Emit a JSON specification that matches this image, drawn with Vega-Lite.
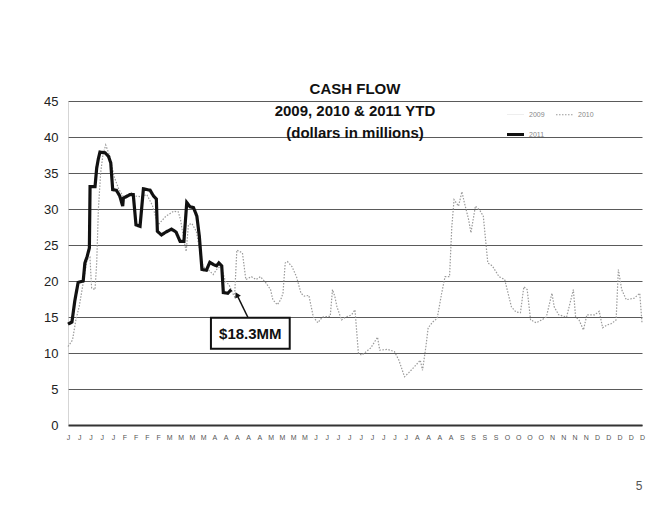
{
  "$schema": "https://vega.github.io/schema/vega-lite/v6.json",
  "width": 574,
  "height": 324,
  "autosize": {"type": "none"},
  "padding": {"left": 68, "top": 101, "right": 26, "bottom": 83},
  "background": "white",
  "config": {"view": {"stroke": null}, "font": "Liberation Sans"},
  "title": {
    "text": ["CASH FLOW", "2009, 2010 & 2011 YTD", "(dollars in millions)"],
    "fontSize": 15,
    "fontWeight": "bold",
    "font": "Liberation Sans",
    "color": "#111111",
    "lineHeight": 22,
    "anchor": "middle",
    "frame": "group",
    "baseline": "top",
    "offset": 0,
    "dy": 46
  },
  "datasets": {
    "lines": [
      {"series": "2010", "week": 0, "value": 10.9},
      {"series": "2010", "week": 0.4, "value": 11.8},
      {"series": "2010", "week": 0.7, "value": 14.6},
      {"series": "2010", "week": 1.0, "value": 16.5},
      {"series": "2010", "week": 1.4, "value": 20.2},
      {"series": "2010", "week": 1.7, "value": 23.0},
      {"series": "2010", "week": 1.95, "value": 23.3},
      {"series": "2010", "week": 2.1, "value": 19.0},
      {"series": "2010", "week": 2.4, "value": 18.8},
      {"series": "2010", "week": 2.55, "value": 22.5},
      {"series": "2010", "week": 2.7, "value": 30.0},
      {"series": "2010", "week": 2.9, "value": 35.0},
      {"series": "2010", "week": 3.1, "value": 37.5},
      {"series": "2010", "week": 3.35, "value": 38.9},
      {"series": "2010", "week": 3.7, "value": 37.4},
      {"series": "2010", "week": 4.1, "value": 34.5},
      {"series": "2010", "week": 4.5, "value": 32.8},
      {"series": "2010", "week": 5.0, "value": 31.5},
      {"series": "2010", "week": 5.6, "value": 32.3},
      {"series": "2010", "week": 6.0, "value": 31.8},
      {"series": "2010", "week": 6.5, "value": 31.7},
      {"series": "2010", "week": 7.0, "value": 32.0},
      {"series": "2010", "week": 7.5, "value": 30.5},
      {"series": "2010", "week": 8.0, "value": 27.8},
      {"series": "2010", "week": 8.7, "value": 29.0},
      {"series": "2010", "week": 9.4, "value": 29.7},
      {"series": "2010", "week": 9.8, "value": 29.6},
      {"series": "2010", "week": 10.0, "value": 28.5},
      {"series": "2010", "week": 10.3, "value": 25.7},
      {"series": "2010", "week": 10.5, "value": 24.1},
      {"series": "2010", "week": 10.7, "value": 27.8},
      {"series": "2010", "week": 11.0, "value": 28.0},
      {"series": "2010", "week": 11.4, "value": 26.9},
      {"series": "2010", "week": 11.7, "value": 24.3},
      {"series": "2010", "week": 12.0, "value": 22.0},
      {"series": "2010", "week": 12.5, "value": 21.5},
      {"series": "2010", "week": 12.9, "value": 20.9},
      {"series": "2010", "week": 13.3, "value": 21.8},
      {"series": "2010", "week": 13.6, "value": 22.0},
      {"series": "2010", "week": 14.0, "value": 19.9},
      {"series": "2010", "week": 14.3, "value": 19.5},
      {"series": "2010", "week": 14.6, "value": 18.4},
      {"series": "2010", "week": 14.8, "value": 17.8},
      {"series": "2010", "week": 15.0, "value": 24.3},
      {"series": "2010", "week": 15.5, "value": 23.9},
      {"series": "2010", "week": 15.8, "value": 20.2},
      {"series": "2010", "week": 16.3, "value": 20.6},
      {"series": "2010", "week": 16.7, "value": 20.2},
      {"series": "2010", "week": 17.1, "value": 20.6},
      {"series": "2010", "week": 17.6, "value": 19.7},
      {"series": "2010", "week": 18.0, "value": 18.8},
      {"series": "2010", "week": 18.2, "value": 17.4},
      {"series": "2010", "week": 18.6, "value": 16.7},
      {"series": "2010", "week": 18.9, "value": 17.4},
      {"series": "2010", "week": 19.1, "value": 18.3},
      {"series": "2010", "week": 19.3, "value": 22.5},
      {"series": "2010", "week": 19.5, "value": 22.7},
      {"series": "2010", "week": 19.9, "value": 22.0},
      {"series": "2010", "week": 20.3, "value": 20.6},
      {"series": "2010", "week": 20.7, "value": 18.3},
      {"series": "2010", "week": 21.0, "value": 17.9},
      {"series": "2010", "week": 21.4, "value": 18.0},
      {"series": "2010", "week": 21.8, "value": 15.0},
      {"series": "2010", "week": 22.2, "value": 14.2},
      {"series": "2010", "week": 22.6, "value": 15.0},
      {"series": "2010", "week": 23.3, "value": 15.1},
      {"series": "2010", "week": 23.5, "value": 18.8},
      {"series": "2010", "week": 23.7, "value": 17.9},
      {"series": "2010", "week": 23.9, "value": 16.4},
      {"series": "2010", "week": 24.3, "value": 14.6},
      {"series": "2010", "week": 24.7, "value": 15.0},
      {"series": "2010", "week": 25.2, "value": 15.3},
      {"series": "2010", "week": 25.5, "value": 16.0},
      {"series": "2010", "week": 25.8, "value": 10.0},
      {"series": "2010", "week": 26.1, "value": 9.7},
      {"series": "2010", "week": 26.9, "value": 10.7},
      {"series": "2010", "week": 27.5, "value": 12.2},
      {"series": "2010", "week": 27.7, "value": 10.4},
      {"series": "2010", "week": 28.4, "value": 10.5},
      {"series": "2010", "week": 29.0, "value": 10.2},
      {"series": "2010", "week": 29.4, "value": 9.0},
      {"series": "2010", "week": 29.9, "value": 6.7},
      {"series": "2010", "week": 30.3, "value": 7.3},
      {"series": "2010", "week": 30.9, "value": 8.3},
      {"series": "2010", "week": 31.3, "value": 9.0},
      {"series": "2010", "week": 31.5, "value": 7.6},
      {"series": "2010", "week": 31.8, "value": 10.9},
      {"series": "2010", "week": 32.0, "value": 13.5},
      {"series": "2010", "week": 32.4, "value": 14.3},
      {"series": "2010", "week": 32.8, "value": 14.8},
      {"series": "2010", "week": 33.2, "value": 18.3},
      {"series": "2010", "week": 33.5, "value": 20.6},
      {"series": "2010", "week": 33.9, "value": 20.6},
      {"series": "2010", "week": 34.1, "value": 27.5},
      {"series": "2010", "week": 34.3, "value": 31.3},
      {"series": "2010", "week": 34.7, "value": 30.4},
      {"series": "2010", "week": 35.0, "value": 32.4},
      {"series": "2010", "week": 35.2, "value": 31.0},
      {"series": "2010", "week": 35.6, "value": 28.5},
      {"series": "2010", "week": 35.8, "value": 26.7},
      {"series": "2010", "week": 36.2, "value": 30.4},
      {"series": "2010", "week": 36.6, "value": 29.8},
      {"series": "2010", "week": 36.9, "value": 29.0},
      {"series": "2010", "week": 37.3, "value": 22.5},
      {"series": "2010", "week": 37.7, "value": 22.1},
      {"series": "2010", "week": 38.3, "value": 20.6},
      {"series": "2010", "week": 38.8, "value": 20.2},
      {"series": "2010", "week": 39.4, "value": 16.4},
      {"series": "2010", "week": 39.8, "value": 15.7},
      {"series": "2010", "week": 40.2, "value": 15.6},
      {"series": "2010", "week": 40.5, "value": 19.2},
      {"series": "2010", "week": 40.8, "value": 18.8},
      {"series": "2010", "week": 41.1, "value": 14.6},
      {"series": "2010", "week": 41.6, "value": 14.2},
      {"series": "2010", "week": 42.1, "value": 14.6},
      {"series": "2010", "week": 42.5, "value": 15.0},
      {"series": "2010", "week": 43.0, "value": 18.3},
      {"series": "2010", "week": 43.2, "value": 16.4},
      {"series": "2010", "week": 43.6, "value": 15.3},
      {"series": "2010", "week": 44.3, "value": 15.0},
      {"series": "2010", "week": 44.9, "value": 18.8},
      {"series": "2010", "week": 45.1, "value": 15.0},
      {"series": "2010", "week": 45.4, "value": 14.6},
      {"series": "2010", "week": 45.8, "value": 13.2},
      {"series": "2010", "week": 46.1, "value": 15.3},
      {"series": "2010", "week": 46.8, "value": 15.3},
      {"series": "2010", "week": 47.2, "value": 15.8},
      {"series": "2010", "week": 47.5, "value": 13.5},
      {"series": "2010", "week": 47.9, "value": 13.9},
      {"series": "2010", "week": 48.3, "value": 14.1},
      {"series": "2010", "week": 48.7, "value": 14.6},
      {"series": "2010", "week": 48.9, "value": 21.6},
      {"series": "2010", "week": 49.2, "value": 18.8},
      {"series": "2010", "week": 49.6, "value": 17.4},
      {"series": "2010", "week": 50.3, "value": 17.6},
      {"series": "2010", "week": 50.8, "value": 18.3},
      {"series": "2010", "week": 51.0, "value": 14.2},
      {"series": "2011", "week": 0, "value": 14.0},
      {"series": "2011", "week": 0.35, "value": 14.3},
      {"series": "2011", "week": 0.6, "value": 17.2},
      {"series": "2011", "week": 0.9, "value": 19.8},
      {"series": "2011", "week": 1.35, "value": 20.0},
      {"series": "2011", "week": 1.5, "value": 22.5},
      {"series": "2011", "week": 1.7, "value": 23.4},
      {"series": "2011", "week": 1.9, "value": 24.6},
      {"series": "2011", "week": 1.96, "value": 33.1},
      {"series": "2011", "week": 2.4, "value": 33.1},
      {"series": "2011", "week": 2.55, "value": 35.7},
      {"series": "2011", "week": 2.7, "value": 37.0},
      {"series": "2011", "week": 2.84, "value": 37.9},
      {"series": "2011", "week": 3.3, "value": 37.8},
      {"series": "2011", "week": 3.6, "value": 37.3},
      {"series": "2011", "week": 3.8, "value": 36.4},
      {"series": "2011", "week": 3.97, "value": 32.7},
      {"series": "2011", "week": 4.3, "value": 32.6},
      {"series": "2011", "week": 4.6, "value": 31.8},
      {"series": "2011", "week": 4.86, "value": 30.4},
      {"series": "2011", "week": 4.92, "value": 31.5},
      {"series": "2011", "week": 5.5, "value": 32.0},
      {"series": "2011", "week": 5.8, "value": 32.0},
      {"series": "2011", "week": 6.04, "value": 27.8},
      {"series": "2011", "week": 6.4, "value": 27.6},
      {"series": "2011", "week": 6.7, "value": 32.8},
      {"series": "2011", "week": 7.3, "value": 32.6},
      {"series": "2011", "week": 7.6, "value": 31.8},
      {"series": "2011", "week": 7.85, "value": 31.4},
      {"series": "2011", "week": 7.94, "value": 26.9},
      {"series": "2011", "week": 8.3, "value": 26.4},
      {"series": "2011", "week": 8.7, "value": 26.8},
      {"series": "2011", "week": 9.2, "value": 27.2},
      {"series": "2011", "week": 9.6, "value": 26.8},
      {"series": "2011", "week": 9.96, "value": 25.5},
      {"series": "2011", "week": 10.3, "value": 25.5},
      {"series": "2011", "week": 10.55, "value": 30.9},
      {"series": "2011", "week": 10.85, "value": 30.3},
      {"series": "2011", "week": 11.15, "value": 30.2},
      {"series": "2011", "week": 11.45, "value": 29.0},
      {"series": "2011", "week": 11.67, "value": 26.2},
      {"series": "2011", "week": 11.9, "value": 21.6},
      {"series": "2011", "week": 12.3, "value": 21.5},
      {"series": "2011", "week": 12.6, "value": 22.6},
      {"series": "2011", "week": 12.9, "value": 22.3},
      {"series": "2011", "week": 13.2, "value": 22.1},
      {"series": "2011", "week": 13.4, "value": 22.5},
      {"series": "2011", "week": 13.66, "value": 22.1},
      {"series": "2011", "week": 13.8, "value": 18.4},
      {"series": "2011", "week": 14.2, "value": 18.3},
      {"series": "2011", "week": 14.5, "value": 18.8}
    ],
    "box": [{"week": 12.7, "week2": 19.7, "value": 10.6, "value2": 14.9}],
    "boxlabel": [{"label": "$18.3MM", "week": 16.2, "value": 12.7}],
    "arrow": [{"week": 16.0, "value": 14.9, "week2": 15.0, "value2": 18.1}],
    "arrowhead": [{"week": 15.0, "value": 18.1}]
  },
  "encoding": {
    "x": {
      "field": "week",
      "type": "quantitative",
      "scale": {"domain": [0, 51], "nice": false, "zero": false},
      "axis": {
        "values": [0,1,2,3,4,5,6,7,8,9,10,11,12,13,14,15,16,17,18,19,20,21,22,23,24,25,26,27,28,29,30,31,32,33,34,35,36,37,38,39,40,41,42,43,44,45,46,47,48,49,50,51],
        "labelExpr": "['J','J','J','J','J','F','F','F','F','M','M','M','M','A','A','A','A','A','M','M','M','M','J','J','J','J','J','J','J','J','J','A','A','A','A','S','S','S','S','O','O','O','O','N','N','N','N','D','D','D','D','D'][datum.value]",
        "labelFontSize": 7,
        "labelColor": "#555555",
        "labelPadding": 8,
        "labelAngle": 0,
        "labelOverlap": false,
        "labelFlush": false,
        "labelBound": false,
        "ticks": false,
        "grid": false,
        "domainColor": "#333333",
        "domainWidth": 2,
        "title": "5",
        "titleFontSize": 12,
        "titleFontWeight": "normal",
        "titleColor": "#555555",
        "titleAnchor": "end",
        "titlePadding": 40
      }
    },
    "y": {
      "field": "value",
      "type": "quantitative",
      "scale": {"domain": [0, 45], "nice": false},
      "axis": {
        "values": [0, 5, 10, 15, 20, 25, 30, 35, 40, 45],
        "labelFontSize": 13,
        "labelColor": "#222222",
        "labelPadding": 10,
        "labelOverlap": false,
        "ticks": false,
        "grid": true,
        "gridColor": "#5a5a5a",
        "gridWidth": 1,
        "domainColor": "#aaaaaa",
        "domainDash": [1, 1],
        "title": null
      }
    }
  },
  "layer": [
    {
      "data": {"name": "lines"},
      "mark": {"type": "line"},
      "encoding": {
        "color": {
          "field": "series",
          "type": "nominal",
          "scale": {"domain": ["2009", "2010", "2011"], "range": ["#eeeeee", "#9a9a9a", "#111111"]},
          "legend": {
            "orient": "none",
            "legendX": 437,
            "legendY": 4,
            "direction": "horizontal",
            "columns": 2,
            "title": null,
            "labelFontSize": 7,
            "labelColor": "#888888",
            "symbolSize": 289,
            "labelOffset": 3,
            "columnPadding": 8,
            "rowPadding": 6
          }
        },
        "strokeDash": {
          "field": "series",
          "type": "nominal",
          "scale": {"domain": ["2009", "2010", "2011"], "range": [[1, 0], [1.5, 1.5], [1, 0]]}
        },
        "strokeWidth": {
          "field": "series",
          "type": "nominal",
          "scale": {"type": "ordinal", "domain": ["2009", "2010", "2011"], "range": [1, 1.2, 3.2]}
        }
      }
    },
    {
      "data": {"name": "arrow"},
      "mark": {"type": "rule", "color": "#111111", "strokeWidth": 1.5},
      "encoding": {
        "x2": {"field": "week2"},
        "y2": {"field": "value2"}
      }
    },
    {
      "data": {"name": "arrowhead"},
      "mark": {"type": "point", "shape": "triangle-up", "filled": true, "color": "#111111", "size": 40, "angle": 333, "opacity": 1}
    },
    {
      "data": {"name": "box"},
      "mark": {"type": "rect", "fill": "white", "stroke": "#111111", "strokeWidth": 2},
      "encoding": {
        "x2": {"field": "week2"},
        "y2": {"field": "value2"}
      }
    },
    {
      "data": {"name": "boxlabel"},
      "mark": {"type": "text", "fontSize": 15, "fontWeight": "bold", "font": "Liberation Sans", "color": "#111111", "align": "center", "baseline": "middle"},
      "encoding": {
        "text": {"field": "label"}
      }
    }
  ]
}
